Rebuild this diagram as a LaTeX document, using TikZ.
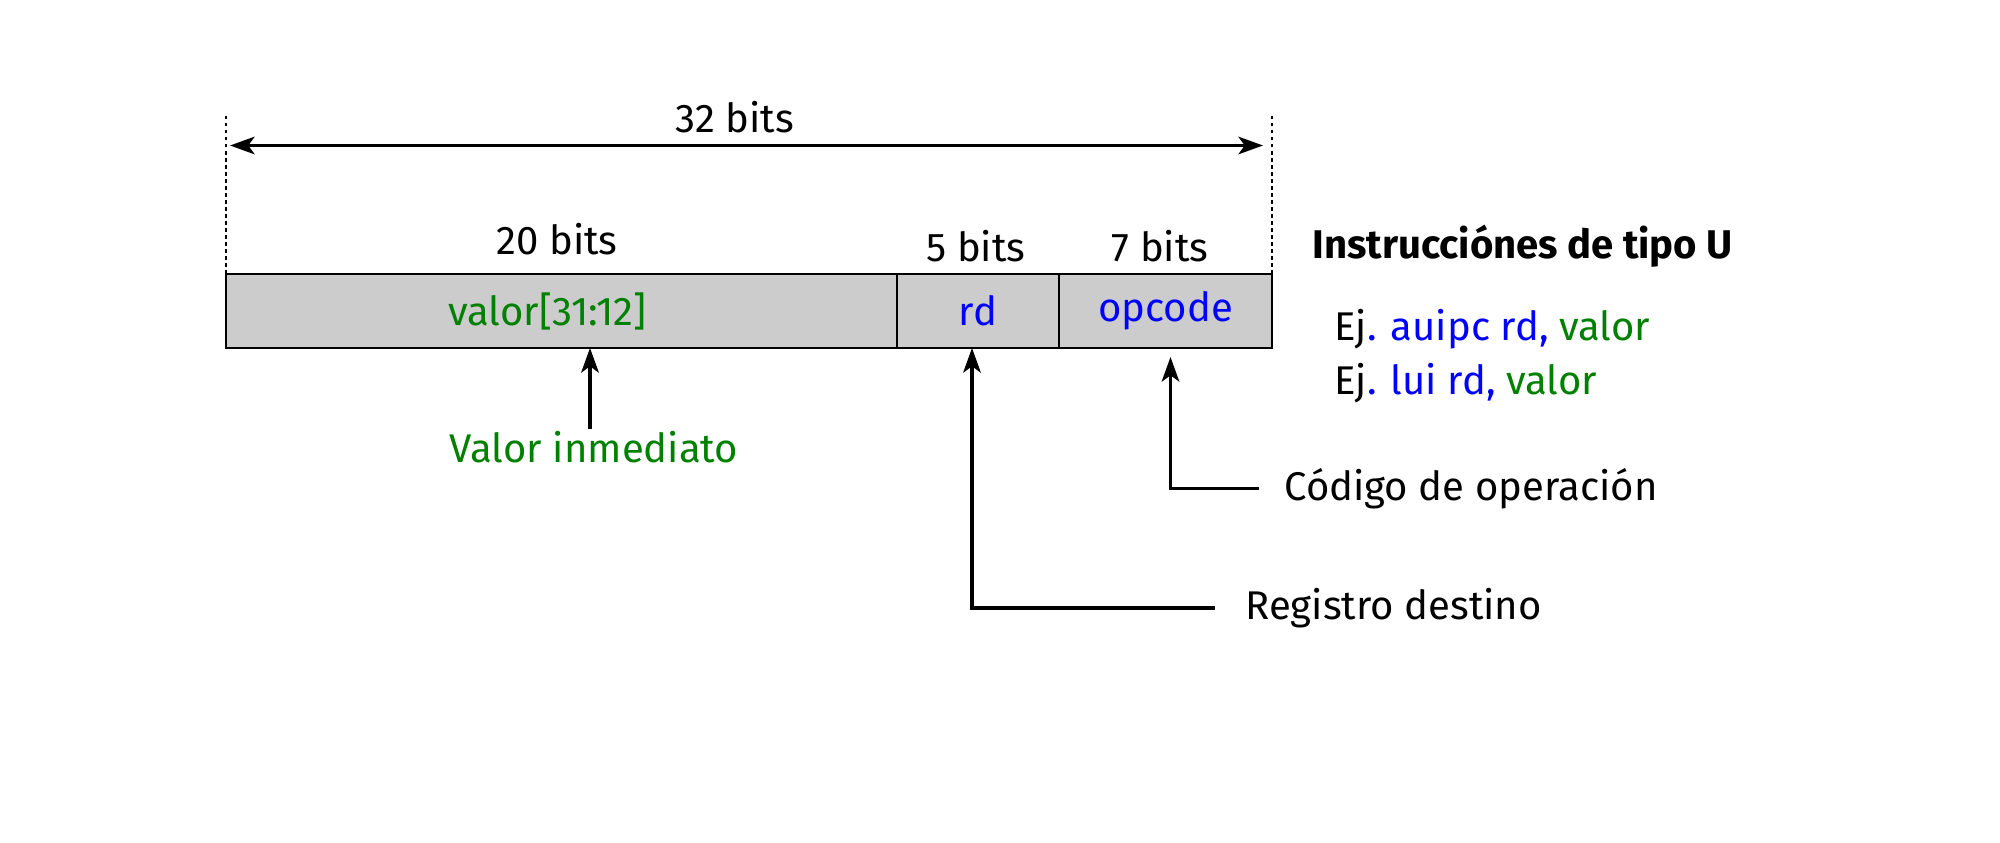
\documentclass[tikz,border=0pt]{standalone}
\usepackage{fontspec}
\setmainfont{Fira Sans}
\usetikzlibrary{arrows.meta,positioning,calc}

\definecolor{verde}{RGB}{0,128,0}
\definecolor{azul}{RGB}{0,0,255}

\begin{document}
\begin{tikzpicture}[
  font=\fontsize{11.4}{13}\selectfont,
  campo/.style={draw, fill=black!20, line width=0.6pt, minimum height=0.74cm, inner sep=0pt, outer sep=0pt},
  punta/.tip={Stealth[length=7pt,width=5pt,inset=1.8pt]},
  flecha/.style={-punta, line width=0.9pt},
  guia/.style={line width=0.3pt, dash pattern=on 1pt off 1pt}
]
  \useasboundingbox (0,0) rectangle (20,8.42);

  % campos de la instrucción tipo U
  \node[campo, anchor=north west, minimum width=6.71cm,
        label={[text=verde, xshift=-0.14cm]center:valor[31:12]}] (valor) at (2.26,5.68) {};
  \node[campo, right=0pt of valor, minimum width=1.62cm, text=azul] (rd) {rd};
  \node[campo, right=0pt of rd, minimum width=2.13cm, text=azul] (op) {opcode};

  % ancho de cada campo
  \node (b20) at (5.57,6.03) {20 bits};
  \node (b5)  at (9.76,5.96) {5 bits};
  \node (b7)  at (11.60,5.96) {7 bits};

  % 32 bits en total
  \coordinate (Izq) at (2.26,7.27);
  \coordinate (Der) at (12.72,7.27);
  \draw[guia] (valor.north west) -- (valor.north west |- Izq);
  \draw[guia] (op.north east) -- (op.north east |- Der);
  \draw[punta-punta, line width=0.9pt] ($(Izq)+(0.04,-0.305)$) -- ($(Der)+(-0.09,-0.305)$);
  \node (b32) at (7.35,7.25) {32 bits};

  % etiquetas de abajo
  \node[text=verde, anchor=north] (imm) at (5.94,4.23) {Valor inmediato};
  \draw[flecha] (5.90,4.13) -- (5.90,4.94);

  \node[anchor=west] (reg) at (12.33,2.34) {Registro destino};
  \draw[flecha] ($(reg.west)+(-0.18,0)$) -| ($(rd.south)+(-0.06,0)$);

  \node[anchor=west] (cod) at (12.72,3.535) {Código de operación};
  \draw[flecha] ($(cod.west)+(-0.13,0)$) -| ($(op.south)+(0.05,-0.09)$);

  % tipo de instrucción y ejemplos
  \node[anchor=west, font=\fontsize{11.4}{13}\selectfont\bfseries] (tit) at (13.00,5.96) {Instrucciónes de tipo U};
  \node[anchor=west] (ej1) at (13.22,5.13) {Ej\textcolor{azul}{. auipc rd,} \textcolor{verde}{valor}};
  \node[anchor=west] (ej2) at (13.22,4.59) {Ej\textcolor{azul}{. lui rd,} \textcolor{verde}{valor}};
\end{tikzpicture}
\end{document}
